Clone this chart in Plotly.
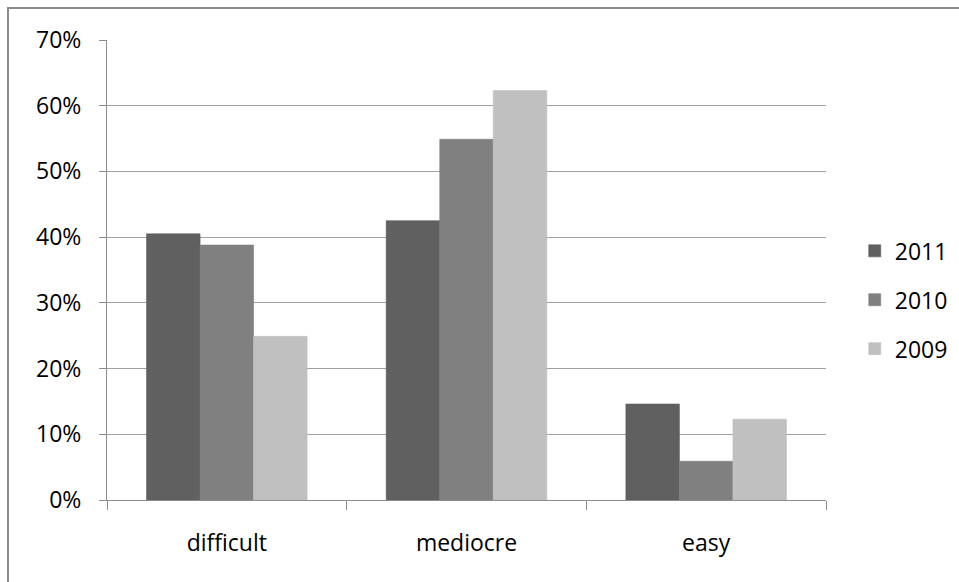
import plotly.graph_objects as go

categories = ["difficult", "mediocre", "easy"]
series_names = ["2011", "2010", "2009"]
values_2011 = [40.5, 42.5, 14.6]
values_2010 = [38.8, 54.9, 5.9]
values_2009 = [24.9, 62.3, 12.3]
colors = ["#606060", "#808080", "#c0c0c0"]
y_ticks = [0, 10, 20, 30, 40, 50, 60, 70]
y_tick_labels = [f"{v}%" for v in y_ticks]

fig = go.Figure()
for name, vals, col in zip(series_names, [values_2011, values_2010, values_2009], colors):
    fig.add_trace(go.Bar(
        x=categories, y=vals, name=name, legendgroup=name,
        marker=dict(color=col, line=dict(color="#5a5a5a" if col == "#606060" else col, width=0.6)),
    ))

font_family = "Open Sans, Liberation Sans, sans-serif"
fig.update_layout(
    width=959, height=582,
    margin=dict(l=107, r=133, t=40, b=82, autoexpand=False),
    paper_bgcolor="white", plot_bgcolor="white",
    barmode="group", bargap=0.33, bargroupgap=0,
    font=dict(family=font_family, size=23, color="#000000"),
    legend=dict(x=1.040, y=0.435, xanchor="left", yanchor="middle",
                font=dict(size=23, color="#000000"), tracegroupgap=16,
                itemwidth=30),
    showlegend=True,
    xaxis=dict(
        showline=True, linecolor="#8c8c8c", linewidth=1,
        ticks="outside", tickson="boundaries", ticklen=9, tickcolor="#8c8c8c",
        ticklabelstandoff=22, tickfont=dict(size=23),
        showgrid=False,
    ),
    yaxis=dict(
        range=[0, 70], tickvals=y_ticks, ticktext=y_tick_labels,
        showline=True, linecolor="#8c8c8c", linewidth=1,
        ticks="outside", ticklen=7, tickcolor="#8c8c8c",
        ticklabelstandoff=13, tickfont=dict(size=23),
        showgrid=True, gridcolor="#a0a0a0", gridwidth=1, zeroline=False,
    ),
    shapes=[dict(type="rect", xref="paper", yref="paper",
                 x0=-0.1377, x1=1.5, y0=-1.0, y1=1.0696,
                 line=dict(color="#8a8a8a", width=2), fillcolor="rgba(0,0,0,0)", layer="below")],
)

fig.write_html("out.html", config={"displayModeBar": False},
               post_script="document.body.style.margin='0';document.body.style.overflow='hidden';")
